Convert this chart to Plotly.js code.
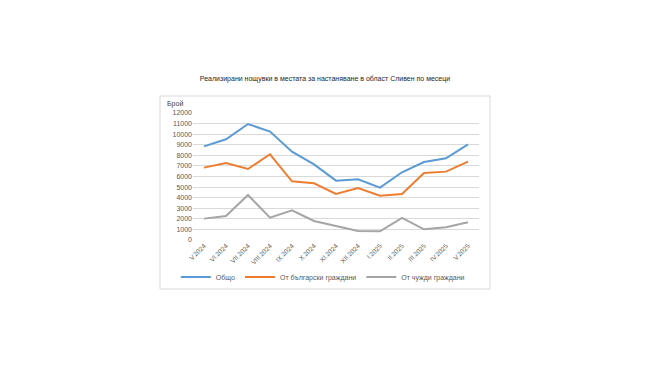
<!DOCTYPE html>
<html>
<head>
<meta charset="utf-8">
<script src="https://cdn.plot.ly/plotly-3.0.1.min.js"></script>
<style>html,body{margin:0;padding:0;background:#fff;}#chart{width:650px;height:365px;}</style>
</head>
<body>
<div id="chart"></div>
<script>
const months = ["V.2024","VI.2024","VII.2024","VIII.2024","IX.2024","X.2024","XI.2024","XII.2024","I.2025","II.2025","III.2025","IV.2025","V.2025"];
const total = [8850, 9520, 10960, 10240, 8350, 7150, 5610, 5730, 4950, 6400, 7370, 7720, 9040];
const bulgarian = [6840, 7280, 6710, 8100, 5550, 5360, 4350, 4910, 4190, 4350, 6330, 6460, 7400];
const foreign = [2020, 2270, 4250, 2110, 2800, 1800, 1320, 850, 820, 2100, 1010, 1200, 1670];
const seriesNames = ["Общо", "От български граждани", "От чужди граждани"];
const yTicks = [0,1000,2000,3000,4000,5000,6000,7000,8000,9000,10000,11000,12000];

const font = "Liberation Sans, Arial, sans-serif";
const colors = ["#5B9BD5", "#ED7D31", "#A5A5A5"];
const data = [total, bulgarian, foreign].map((v, i) => ({
  x: months, y: v, type: "scatter", mode: "lines", name: seriesNames[i],
  line: {color: colors[i], width: 2}
}));

const layout = {
  width: 650, height: 365,
  margin: {l: 193, r: 171, t: 113, b: 125},
  paper_bgcolor: "#fff", plot_bgcolor: "#fff",
  showlegend: true,
  title: {text: "Реализирани нощувки в местата за настаняване в област Сливен по месеци",
          font: {family: font, size: 7, color: "#262626"}, x: 0.5, xanchor: "center",
          y: 1 - 79/365, yanchor: "middle", xref: "container", yref: "container"},
  xaxis: {type: "category", range: [-0.5, 12.5], tickangle: -45, showgrid: false,
          tickmode: "array", tickvals: months, ticktext: months,
          zeroline: false, showline: false, ticks: "",
          tickfont: {family: font, size: 6.5, color: "#595959"}, fixedrange: true},
  yaxis: {range: [0, 12000], tickvals: yTicks, ticktext: yTicks.map(String),
          showgrid: true, gridcolor: "#D9D9D9", gridwidth: 1, zeroline: false,
          showline: false, ticks: "", ticklen: 0,
          tickfont: {family: font, size: 7, color: "#595959"}, fixedrange: true},
  legend: {orientation: "h", x: -0.06, xanchor: "left", y: -0.291, yanchor: "middle",
           font: {family: font, size: 7, color: "#595959"}, itemwidth: 30, tracegroupgap: 0,
           bgcolor: "rgba(0,0,0,0)"},
  annotations: [{text: "Брой", xref: "paper", yref: "paper", x: -0.063, y: 1.071,
                 xanchor: "center", yanchor: "middle", showarrow: false,
                 font: {family: font, size: 7, color: "#404040"}}],
  shapes: [{type: "rect", xref: "paper", yref: "paper", x0: -0.1154, x1: 1.0385,
            y0: -0.3858, y1: 1.1339, line: {color: "#D9D9D9", width: 1}, fillcolor: "rgba(0,0,0,0)", layer: "below"}]
};
Plotly.newPlot("chart", data, layout, {displayModeBar: false, staticPlot: true});
</script>
</body>
</html>
